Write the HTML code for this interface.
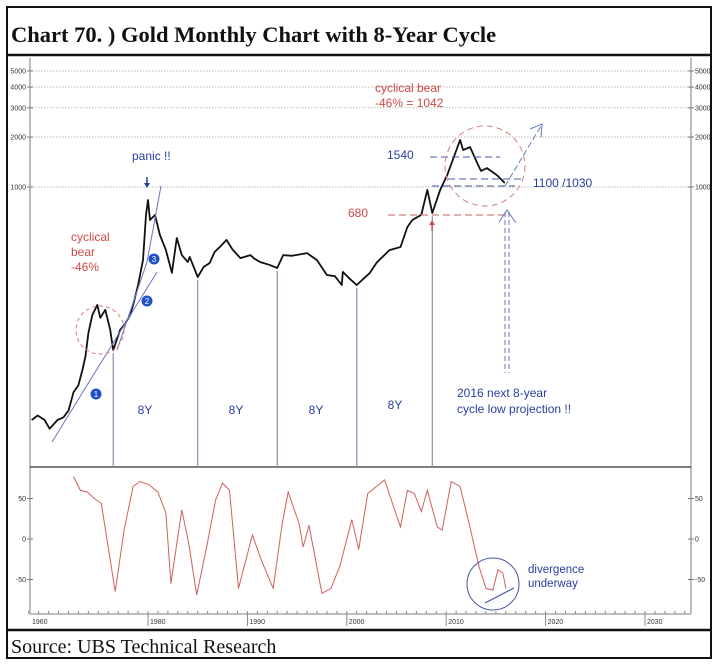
<!DOCTYPE html>
<html><head><meta charset="utf-8">
<style>
html,body{margin:0;padding:0;background:#fff;}
svg{display:block;}
text{font-family:"Liberation Sans",sans-serif;}
</style></head>
<body>
<svg id="c" width="720" height="672" viewBox="0 0 720 672" xmlns="http://www.w3.org/2000/svg">
<rect x="7" y="7" width="704" height="651" fill="#fff" stroke="#111" stroke-width="2"/>
<line x1="7" y1="55" x2="711" y2="55" stroke="#111" stroke-width="2.5"/>
<line x1="7" y1="630" x2="711" y2="630" stroke="#111" stroke-width="2.5"/>
<text x="11" y="42" font-weight="bold" font-size="22.5" fill="#111" style="font-family:'Liberation Serif',serif">Chart 70. )  Gold Monthly Chart with 8-Year Cycle</text>
<text x="11" y="653" font-size="20" fill="#111" style="font-family:'Liberation Serif',serif">Source: UBS Technical Research</text>
<g id="g"></g>
</svg>
<script>
// price data (year, price)
const priceYears=[1968.3,1968.9,1969.6,1970.1,1970.9,1971.5,1972.0,1972.5,1973.0,1973.4,1973.7,1974.0,1974.4,1974.9,1975.2,1975.7,1976.2,1976.5,1977.2,1977.7,1978.2,1978.6,1979.0,1979.5,1979.8,1980.0,1980.2,1980.7,1981.2,1981.8,1982.4,1982.9,1983.4,1984.0,1984.2,1985.0,1985.6,1986.2,1986.7,1987.3,1987.9,1988.5,1989.3,1990.3,1990.7,1991.3,1992.2,1993.0,1993.6,1994.5,1996.0,1997.0,1998.0,1998.8,1999.5,1999.6,2000.3,2001.0,2002.3,2003.0,2004.3,2005.4,2006.1,2006.6,2007.5,2008.1,2008.6,2009.4,2010.1,2011.4,2011.7,2012.4,2013.2,2013.5,2014.1,2015.1,2015.9];
const priceValues=[39.5,42,39.5,35,39.5,41,45,58,64,79,95,132,169,195,163,182,138,104,138,150,169,205,257,363,678,835,633,678,514,417,304,493,389,353,379,287,330,348,406,440,480,420,373,389,370,353,340,325,389,385,400,363,295,290,257,308,280,257,303,350,417,435,574,633,680,960,697,960,1180,1920,1670,1740,1360,1250,1300,1180,1057];
// oscillator data
const oscYears=[1972.5,1973.2,1973.9,1974.6,1975.3,1976.7,1977.6,1978.5,1979.2,1980.1,1981.0,1981.8,1982.3,1983.4,1984.1,1984.9,1985.9,1986.8,1987.5,1988.2,1989.1,1990.5,1991.4,1992.6,1993.5,1994.1,1995.2,1995.6,1996.2,1997.5,1998.4,1999.3,2000.5,2001.2,2002.1,2003.8,2004.7,2005.4,2006.1,2006.8,2007.5,2008.1,2009.1,2009.6,2010.5,2011.4,2012.3,2013.3,2014.0,2014.7,2015.2,2015.7,2016.0];
const oscValues=[77,60,58,50,44,-65,11,65,71,67,58,32,-55,36,-6,-69,-10,48,69,60,-61,5,-26,-61,19,58,19,-10,17,-67,-61,-34,24,-13,56,73,40,15,60,56,34,60,15,11,71,65,19,-34,-61,-63,-38,-42,-61];
const priceTicks=[1000,2000,3000,4000,5000];
const oscTicks=[50,0,-50];
const yearTicks=[1980,1990,2000,2010,2020,2030];
const cycleLows=[1976.5,1985.0,1993.0,2001.0,2008.6];

const NS="http://www.w3.org/2000/svg";
const g=document.getElementById('g');
const X=y=>148+(y-1980)*9.94;
const YP=p=>187+166*Math.log10(1000/p);
const YO=v=>539-v*0.81;
function el(tag,attrs,parent){const e=document.createElementNS(NS,tag);for(const k in attrs)e.setAttribute(k,attrs[k]);(parent||g).appendChild(e);return e;}
function txt(x,y,s,fill,size,name,anchor){const t=el('text',{x:x,y:y,fill:fill,'font-size':size,'text-anchor':anchor||'start'});t.textContent=s;


return t;}

// axes
const ax=el('g',{stroke:'#999','stroke-width':1.3,fill:'none'});


el('line',{x1:30,y1:58,x2:30,y2:614},ax);
el('line',{x1:691,y1:58,x2:691,y2:614},ax);
el('line',{x1:30,y1:614,x2:691,y2:614},ax);
el('line',{x1:30,y1:467,x2:691,y2:467,stroke:'#333'},ax);
priceTicks.forEach(p=>{const y=YP(p);
 const l=el('line',{x1:32,y1:y,x2:689,y2:y,stroke:'#bbb','stroke-dasharray':'1.5 1.5','stroke-width':1});
 
 
 el('line',{x1:27,y1:y,x2:33,y2:y,stroke:'#777'});
 el('line',{x1:688,y1:y,x2:694,y2:y,stroke:'#777'});
 txt(26,y+2.5,String(p),'#333',7,'price-tick-left','end');
 txt(695,y+2.5,String(p),'#333',7,'price-tick-right','start');
});
oscTicks.forEach(v=>{const y=YO(v);
 el('line',{x1:27,y1:y,x2:33,y2:y,stroke:'#777'});
 el('line',{x1:688,y1:y,x2:694,y2:y,stroke:'#777'});
 txt(26,y+2.5,String(v),'#333',7,'osc-tick-left','end');
 txt(695,y+2.5,String(v),'#333',7,'osc-tick-right','start');
});
txt(32,624,'1960','#333',7,'year-tick');
for(let yr=1968;yr<=2035;yr++){const x=X(yr);if(x>691)break;el('line',{x1:x,y1:614,x2:x,y2:611,stroke:'#888'});}
yearTicks.forEach(yr=>{const x=X(yr);el('line',{x1:x,y1:614,x2:x,y2:626,stroke:'#888'});txt(x+2,624,String(yr),'#333',7,'year-tick');});

// cycle low lines
cycleLows.forEach((yr,i)=>{
 let p=priceValues[0];for(let k=0;k<priceYears.length;k++){if(Math.abs(priceYears[k]-yr)<0.15)p=priceValues[k];}
 const l=el('line',{x1:X(yr),y1:YP(p)+3,x2:X(yr),y2:467,stroke:'#8890b0','stroke-width':1.2});
 
 
});
[[145,414],[236,414],[316,414],[395,409]].forEach(a=>txt(a[0],a[1],'8Y','#2a3d9f',12,'cycle-length-label','middle'));

// price line
let d='';priceYears.forEach((yr,i)=>{d+=(i?'L':'M')+X(yr).toFixed(1)+' '+YP(priceValues[i]).toFixed(1);});
const pl=el('path',{d:d,fill:'none',stroke:'#111','stroke-width':1.8,'stroke-linejoin':'round'});


let d2='';oscYears.forEach((yr,i)=>{d2+=(i?'L':'M')+X(yr).toFixed(1)+' '+YO(oscValues[i]).toFixed(1);});
const ol=el('path',{d:d2,fill:'none',stroke:'#d0605a','stroke-width':1});



// annotations
const an=el('g',{fill:'none'});


el('line',{x1:52,y1:442,x2:157,y2:272,stroke:'#6a74c8','stroke-width':1},an);
el('polyline',{points:'117,350 147,262 161,186',stroke:'#6a74c8','stroke-width':1},an);
el('circle',{cx:100,cy:330,r:24,stroke:'#d08080','stroke-dasharray':'4 3'},an);
[[96,394,'1'],[147,301,'2'],[154,259,'3']].forEach(c=>{const ci=el('circle',{cx:c[0],cy:c[1],r:5.5,fill:'#2050c8'},an);
 
 
 txt(c[0],c[1]+3,c[2],'#fff',8,'wave-marker-number','middle');});
txt(71,241,'cyclical','#d04848',12,'cyclical-bear-label');
txt(71,256,'bear','#d04848',12,'cyclical-bear-label');
txt(71,271,'-46%','#d04848',12,'cyclical-bear-label');
txt(132,160,'panic !!','#2a3d9f',12,'panic-label');
el('line',{x1:147,y1:177,x2:147,y2:184,stroke:'#2a3d9f','stroke-width':1.5},an);
el('polygon',{points:'144,183 150,183 147,188',fill:'#2a3d9f'},an);
txt(375,92,'cyclical bear','#d04848',12,'cyclical-bear-2016-label');
txt(375,107,'-46% = 1042','#d04848',12,'cyclical-bear-2016-label');
txt(387,159,'1540','#2a3d9f',12,'level-1540');
txt(348,217,'680','#d04848',12,'level-680');
txt(533,187,'1100 /1030','#2a3d9f',12,'level-1100-1030');
el('line',{x1:430,y1:157,x2:500,y2:157,stroke:'#4a58a8','stroke-dasharray':'7 4'},an);
el('line',{x1:448,y1:179,x2:525,y2:179,stroke:'#4a58a8','stroke-dasharray':'7 4'},an);
el('line',{x1:432,y1:186,x2:515,y2:186,stroke:'#4a58a8','stroke-dasharray':'7 4'},an);
el('line',{x1:388,y1:215,x2:505,y2:215,stroke:'#d08080','stroke-dasharray':'7 4','stroke-width':1.2},an);
el('circle',{cx:485,cy:166,r:40,stroke:'#d08080','stroke-dasharray':'6 4'},an);
el('line',{x1:505,y1:186,x2:541,y2:126,stroke:'#6a74c8','stroke-dasharray':'6 3'},an);
el('polyline',{points:'530,129 542,124 541,137',stroke:'#6a74c8'},an);
el('line',{x1:432,y1:224,x2:432,y2:231,stroke:'#d04848','stroke-width':1.3},an);
el('polygon',{points:'429,225 435,225 432,220',fill:'#d04848'},an);
el('line',{x1:505,y1:212,x2:505,y2:373,stroke:'#6a74c8','stroke-dasharray':'5 3'},an);
el('line',{x1:509,y1:212,x2:509,y2:373,stroke:'#6a74c8','stroke-dasharray':'5 3'},an);
el('polyline',{points:'499,222 507,210 516,223',stroke:'#6a74c8'},an);
txt(457,397,'2016 next 8-year','#2a3d9f',12,'projection-label');
txt(457,413,'cycle low projection !!','#2a3d9f',12,'projection-label');
el('circle',{cx:493,cy:584,r:26,stroke:'#4a58a8','stroke-width':1},an);
el('line',{x1:485,y1:603,x2:514,y2:588,stroke:'#4a58a8','stroke-width':1.2},an);
txt(528,573,'divergence','#2a3d9f',11.5,'divergence-label');
txt(528,587,'underway','#2a3d9f',11.5,'divergence-label');
</script>
</body></html>
